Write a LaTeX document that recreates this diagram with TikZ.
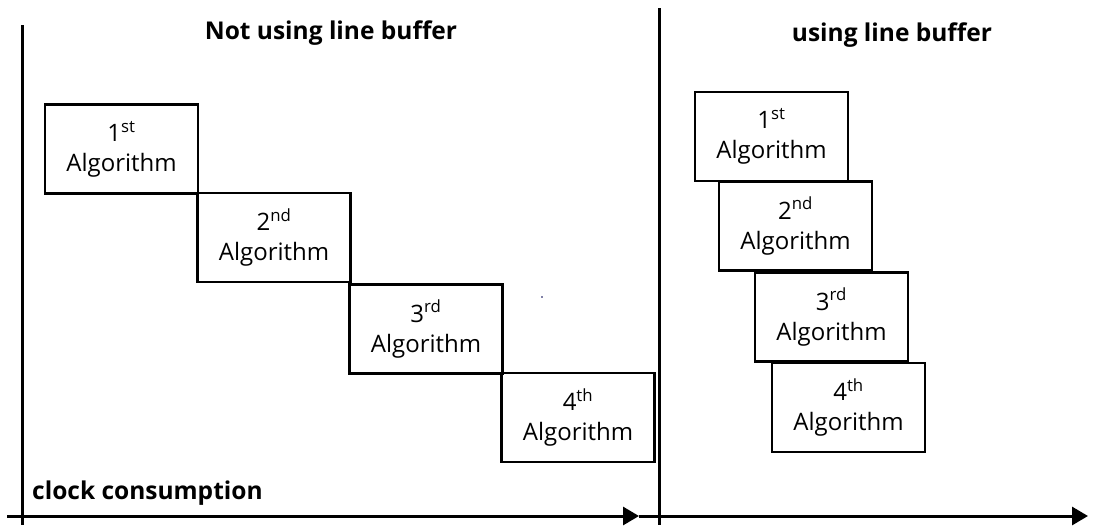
\documentclass[tikz,border=0pt]{standalone}
\usepackage{fontspec}
\setmainfont{Open Sans}
\usetikzlibrary{arrows.meta}
\begin{document}
\begin{tikzpicture}[x=1pt,y=-1pt,
  algbox/.style={draw,line width=2.1pt,minimum width=153pt,minimum height=89pt,inner sep=0pt,align=center,font=\fontsize{24}{30}\selectfont},
  axis/.style={line width=3pt},
  title/.style={font=\fontsize{24.5}{28}\selectfont\bfseries,inner sep=0pt}]
\useasboundingbox (0,0) rectangle (1110,525);
% axes
\coordinate (lvt) at (22,25); \coordinate (lvb) at (22,525);
\coordinate (mvt) at (659,8); \coordinate (mvb) at (659,525);
\coordinate (h0) at (7,516); \coordinate (h1) at (639,516); \coordinate (h2) at (1088,516);
\draw[axis] (lvt) -- (lvb);
\draw[axis] (mvt) -- (mvb);
\draw[axis,-{Triangle[length=16pt,width=18pt]}] (h0) -- (h1);
\draw[axis,-{Triangle[length=16pt,width=18pt]}] (h1) -- (h2);
% titles
\node[title] (t1) at (331,33) {Not using line buffer};
\node[title] (t2) at (892,35) {using line buffer};
\node[title,anchor=west] (t3) at (32,493) {clock consumption};
% left boxes
\node[algbox] (a1) at (121.5,149) {1\textsuperscript{st}\\Algorithm};
\node[algbox] (a2) at (274,237.5) {2\textsuperscript{nd}\\Algorithm};
\node[algbox] (a3) at (426,329) {3\textsuperscript{rd}\\Algorithm};
\node[algbox] (a4) at (578,417.5) {4\textsuperscript{th}\\Algorithm};
% right boxes
\node[algbox] (b1) at (771.5,136.5) {1\textsuperscript{st}\\Algorithm};
\node[algbox] (b2) at (795.5,226) {2\textsuperscript{nd}\\Algorithm};
\node[algbox] (b3) at (831.5,317) {3\textsuperscript{rd}\\Algorithm};
\node[algbox] (b4) at (848.5,407.5) {4\textsuperscript{th}\\Algorithm};
% stray dot
\fill[black!70!blue] (542,297) circle (0.9pt);
\end{tikzpicture}
\end{document}
